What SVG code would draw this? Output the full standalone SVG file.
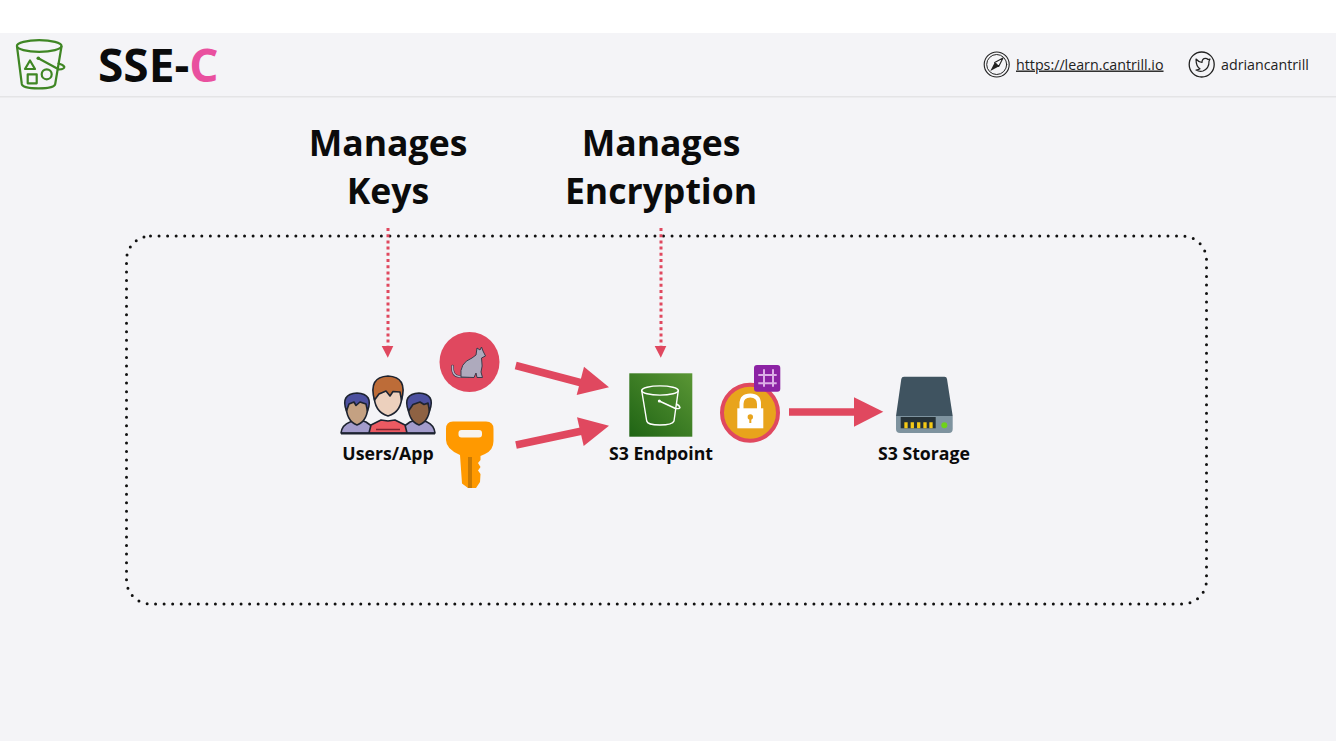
<svg xmlns="http://www.w3.org/2000/svg" width="1336" height="741" viewBox="0 0 1336 741">
<style>
text{font-family:"Open Sans","Noto Sans","Liberation Sans",sans-serif;fill:#0b0b0b}
.h{font-size:35.600px;font-weight:700;text-anchor:middle}
.l{font-size:17.700px;font-weight:700;text-anchor:middle}
.s{font-size:14.250px;fill:#222}
.ol{fill:none;stroke:#222;stroke-linecap:round;stroke-linejoin:round}
.g{fill:none;stroke:#3f8624;stroke-width:2.200;stroke-linecap:round;stroke-linejoin:round}
.w{fill:none;stroke:#fff;stroke-width:1.400;stroke-linecap:round;stroke-linejoin:round}
.dot{stroke:#e0485f;stroke-width:3;stroke-dasharray:3 3.200;fill:none}
.bar{stroke:#e0485f;stroke-width:7.500;fill:none}
.tip{fill:#e0485f}
.p{stroke:#1d2330;stroke-width:1.600;stroke-linejoin:round}
</style>
<rect width="1336" height="741" fill="#fff"/>
<rect y="33" width="1336" height="708" fill="#f4f4f7"/>
<rect y="96" width="1336" height="1.500" fill="#e4e4e6"/>
<g id="header-logo">
<ellipse cx="39.200" cy="46" rx="22.300" ry="5.800" class="g"/>
<path class="g" d="M17 46.500 L21.800 84 Q22.500 88.300 38.500 88.300 Q54.500 88.300 55.200 84 L61.500 46.500"/>
<path class="g" d="M38.300 58.300 L59 69.500 Q64.500 69 64.300 66.800 Q63 64.500 58.500 63.500"/>
<circle cx="38.300" cy="58.300" r="1.800" fill="#3f8624"/>
<path class="g" d="M30 60.500 L35 69 H25Z"/>
<rect x="27.700" y="74.300" width="9" height="9" class="g"/>
<circle cx="46.700" cy="74.300" r="5" class="g"/>
</g>
<g id="title"><text x="98" y="82" font-size="46" font-weight="700">SSE-<tspan fill="#e9509f">C</tspan></text></g>
<g id="site-link">
<circle cx="996.700" cy="64.500" r="12.500" class="ol" stroke-width="1.100"/>
<circle cx="996.700" cy="64.500" r="10" class="ol" stroke-width="1"/>
<path d="M1003 58 L998.700 66.500 L994.700 62.500Z" class="ol" stroke-width="1.100"/>
<path d="M990.300 71 L994.700 62.500 L998.700 66.500Z" fill="#222"/>
<text x="1016" y="69.500" class="s" text-decoration="underline">https://learn.cantrill.io</text>
</g>
<g id="twitter-link">
<circle cx="1201.700" cy="64.500" r="12.500" class="ol" stroke-width="1.300"/>
<path class="ol" stroke-width="1.200" d="M1196 59 Q1198.500 62 1202 62.500 Q1202 58.300 1205.500 58.300 Q1207 58.300 1208 59.500 L1210 59 L1209 61.300 Q1209.300 68.500 1203 71 Q1199.500 72 1196 70 Q1198.500 70 1200 68.800 Q1196 66.500 1196 59Z"/>
<text x="1221" y="69.500" class="s">adriancantrill</text>
</g>
<g id="boundary"><rect x="126.500" y="236" width="1080" height="368" rx="24" fill="none" stroke="#111" stroke-width="3" stroke-linecap="round" stroke-dasharray="0 8.550"/></g>
<g id="label-manages-keys"><text class="h" x="388" y="155.500">Manages</text><text class="h" x="388" y="203.500">Keys</text></g>
<g id="label-manages-encryption"><text class="h" x="661" y="155.500">Manages</text><text class="h" x="661" y="203.500">Encryption</text></g>
<g id="connectors">
<path class="dot" d="M388 228V348"/><path class="tip" d="M381.700 346H393.300L387.800 357.700Z"/>
<path class="dot" d="M661 228V348"/><path class="tip" d="M654.700 346H666.300L660.800 357.700Z"/>
<path class="bar" d="M515.700 365.500L582 383"/><path class="tip" d="M584 366.700L609 387.300L576.700 395Z"/>
<path class="bar" d="M516 445L582 431"/><path class="tip" d="M577 417.300L609 425.700L583.700 446Z"/>
<path class="bar" d="M789 412H855"/><path class="tip" d="M854 397.300L883.300 411.700L854 426.700Z"/>
</g>
<g id="users-app">
<path class="p" fill="#a39ccc" d="M341 433Q342 425 350 422L357 419L366 422L373 427L375 433Z"/>
<path class="p" fill="#a39ccc" d="M401 433L403 427L410 422L419 419L427 422Q434 425 435 433Z"/>
<path class="p" fill="#c4a182" d="M346 404Q346 396 357 396Q368 396 368 404Q368 421 357 425Q346 421 346 404Z"/>
<path class="p" fill="#4c509f" d="M346.500 411Q340 394 357 393Q374 394 367.500 411L366 404L360 402L356 405.500L354 402L349 404Z"/>
<path class="p" fill="#8e6243" d="M408 404Q408 396 419 396Q430 396 430 404Q430 421 419 425Q408 421 408 404Z"/>
<path class="p" fill="#4c509f" d="M408.500 411Q402 394 419 393Q436 394 429.500 411L428 403L424 404.500L420 402L413 404.500Z"/>
<path class="p" fill="#ec5a62" d="M369 433L371 425L381 420L388 421L395 420L405 425L407 433Z"/>
<path class="p" fill="#ecd0bd" d="M374 394Q374 384 388 384Q402 384 402 394Q402 412 388 416Q374 412 374 394Z"/>
<path class="p" fill="#bd6c38" d="M374.500 400Q368 377 388 376Q408 377 401.500 400L400 392L393 391.500L390 396L386 391L379 394Z"/>
<path d="M341 433.500H435" stroke="#1d2330" stroke-width="2"/>
<path d="M376 429.500H400" stroke="#7c2530" stroke-width="1.500"/>
<text class="l" x="388" y="460">Users/App</text>
</g>
<g id="secret-cat">
<circle cx="469.500" cy="362" r="30" fill="#e0485f"/>
<path fill="none" stroke="#3c3a4a" stroke-width="2.600" stroke-linecap="round" d="M452.500 366Q452 376 459 376.500H468"/>
<path fill="none" stroke="#b9b5c8" stroke-width="1.400" stroke-linecap="round" d="M452.500 366Q452 376 459 376.500H468"/>
<path fill="#aeaabd" stroke="#3c3a4a" stroke-width="1" stroke-linejoin="round" d="M461 377Q459 363 472 358L476 355L477 348L480 350L481.500 347L483 351L485.500 356L481.500 358Q483 367 481 372L482.500 377.500H477L476 373L474 377.500Z"/>
</g>
<g id="customer-key">
<path fill="#ff9900" d="M453 421.500H486Q493.500 421.500 493.500 429V441Q493.500 450 485 454L480.500 456V460L478 463L480.500 467L478 470.500L480.500 474L480 482L476 488H468L462 483.500L460 455Q446 449 446 440V429Q446 421.500 453 421.500Z"/>
<rect x="458.500" y="430" width="23.500" height="7.500" rx="3" fill="#f7f3ee"/>
<rect x="468" y="457" width="4" height="31" fill="#c97a04"/>
</g>
<g id="s3-endpoint">
<defs><linearGradient id="gr" x1="0" y1="1" x2="1" y2="0"><stop offset="0" stop-color="#1f6414"/><stop offset="1" stop-color="#5a9635"/></linearGradient></defs>
<rect x="629.300" y="373.300" width="63" height="63.400" fill="url(#gr)"/>
<ellipse cx="660" cy="390.500" rx="18.300" ry="4.600" class="w"/>
<path class="w" d="M641.700 390.500L646.700 421Q647.500 425 660 425Q672.500 425 674 421L678.300 390.500"/>
<path class="w" d="M659.300 401L675.500 408.500Q680 409 680 407.500Q679.500 405.500 676.500 404"/>
<circle cx="659.300" cy="401" r="1.500" fill="#fff"/>
<text class="l" x="661" y="460">S3 Endpoint</text>
</g>
<g id="encryption-lock">
<circle cx="750" cy="412.700" r="28" fill="#e8a41c" stroke="#e0485f" stroke-width="4"/>
<path d="M741.500 411V404Q741.500 395.500 750.300 395.500Q759 395.500 759 404V411" fill="none" stroke="#fff" stroke-width="4"/>
<rect x="737.300" y="408.300" width="26" height="20" fill="#fff"/>
<circle cx="750.300" cy="417" r="2.700" fill="#e8a41c"/>
<rect x="749.300" y="417" width="2" height="6" fill="#e8a41c"/>
<rect x="754" y="365" width="26.300" height="26.700" rx="3" fill="#8c22a4"/>
<path d="M764 369.300V386.700M773 369.300V386.700M758.300 375H776.700M758.300 383.300H776.700" stroke="#dcaee6" stroke-width="2" fill="none"/>
</g>
<g id="s3-storage">
<path fill="#3f5360" d="M904 376.700H944.500Q946.700 376.700 947 379L952.700 416H896L901.300 379Q901.700 376.700 904 376.700Z"/>
<path fill="#7e939f" d="M896 416H952.700V429Q952.700 433 949 433H900Q896 433 896 429Z"/>
<rect x="900.700" y="417" width="35" height="11.300" fill="#263238"/>
<path d="M906 422.300V428.300M912.300 422.300V428.300M918.700 422.300V428.300M925 422.300V428.300M931 422.300V428.300" stroke="#f5c915" stroke-width="3.300"/>
<circle cx="944.300" cy="425.300" r="3" fill="#6fd21a"/>
<text class="l" x="924" y="460">S3 Storage</text>
</g>
</svg>
